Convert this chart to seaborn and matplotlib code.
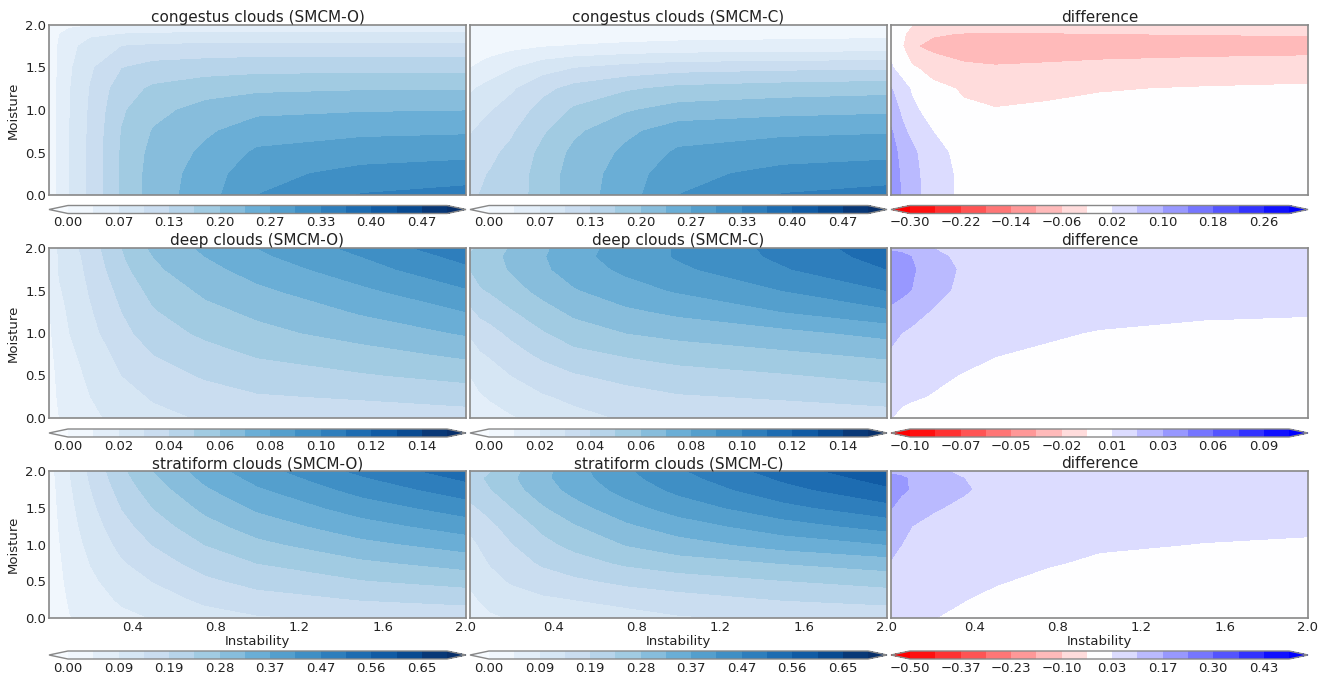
import numpy as np
import matplotlib
matplotlib.use("Agg")
import matplotlib.pyplot as plt
from matplotlib.ticker import FuncFormatter
import seaborn as sns

# grid of the model output
instability = [0.0, 0.05, 0.1, 0.2, 0.35, 0.5, 0.75, 1.0, 1.5, 2.0]
moisture = [0.0, 0.25, 0.5, 0.75, 1.0, 1.25, 1.5, 1.75, 1.9, 2.0]

# rows: moisture from 0.0 up to 2.0, columns: instability
congestus_o = [
    [0.000, 0.045, 0.067, 0.108, 0.172, 0.215, 0.252, 0.300, 0.335, 0.345],
    [0.000, 0.045, 0.067, 0.108, 0.172, 0.214, 0.248, 0.290, 0.310, 0.318],
    [0.000, 0.045, 0.067, 0.108, 0.171, 0.210, 0.240, 0.272, 0.285, 0.290],
    [0.000, 0.045, 0.067, 0.107, 0.168, 0.202, 0.228, 0.250, 0.259, 0.262],
    [0.000, 0.045, 0.066, 0.105, 0.162, 0.190, 0.212, 0.225, 0.230, 0.232],
    [0.000, 0.044, 0.065, 0.102, 0.152, 0.172, 0.185, 0.193, 0.197, 0.198],
    [0.000, 0.043, 0.062, 0.095, 0.132, 0.145, 0.151, 0.154, 0.155, 0.155],
    [0.000, 0.040, 0.056, 0.082, 0.100, 0.105, 0.108, 0.110, 0.110, 0.110],
    [0.000, 0.032, 0.045, 0.058, 0.065, 0.068, 0.070, 0.070, 0.070, 0.070],
    [0.000, 0.020, 0.026, 0.031, 0.033, 0.034, 0.035, 0.035, 0.035, 0.035],
]
congestus_c = [
    [0.130, 0.134, 0.138, 0.148, 0.182, 0.215, 0.252, 0.300, 0.335, 0.345],
    [0.125, 0.130, 0.135, 0.147, 0.181, 0.214, 0.248, 0.290, 0.310, 0.318],
    [0.112, 0.120, 0.127, 0.141, 0.175, 0.208, 0.240, 0.272, 0.285, 0.290],
    [0.097, 0.106, 0.114, 0.129, 0.162, 0.193, 0.226, 0.250, 0.259, 0.263],
    [0.080, 0.090, 0.098, 0.114, 0.145, 0.171, 0.196, 0.213, 0.221, 0.226],
    [0.062, 0.071, 0.079, 0.095, 0.124, 0.144, 0.162, 0.175, 0.183, 0.188],
    [0.032, 0.040, 0.048, 0.063, 0.085, 0.098, 0.110, 0.118, 0.123, 0.126],
    [0.010, 0.014, 0.018, 0.024, 0.031, 0.035, 0.039, 0.042, 0.044, 0.046],
    [0.004, 0.006, 0.008, 0.011, 0.014, 0.016, 0.019, 0.021, 0.023, 0.025],
    [0.002, 0.003, 0.004, 0.005, 0.006, 0.007, 0.008, 0.009, 0.010, 0.011],
]
congestus_diff = [
    [0.135, 0.097, 0.075, 0.040, 0.010, 0.000, 0.000, 0.000, 0.000, 0.000],
    [0.128, 0.094, 0.073, 0.039, 0.010, 0.000, 0.000, 0.000, 0.000, 0.000],
    [0.120, 0.087, 0.068, 0.035, 0.005, 0.000, 0.000, 0.000, 0.000, 0.000],
    [0.105, 0.068, 0.052, 0.020, -0.005, -0.008, 0.000, 0.000, 0.000, 0.000],
    [0.080, 0.055, 0.030, 0.000, -0.015, -0.019, -0.016, -0.012, -0.010, -0.008],
    [0.062, 0.040, 0.015, -0.010, -0.024, -0.028, -0.026, -0.022, -0.018, -0.015],
    [0.025, 0.000, -0.015, -0.035, -0.050, -0.055, -0.050, -0.045, -0.040, -0.038],
    [0.005, -0.015, -0.055, -0.072, -0.090, -0.100, -0.095, -0.088, -0.082, -0.078],
    [0.000, -0.010, -0.035, -0.055, -0.062, -0.064, -0.063, -0.060, -0.058, -0.056],
    [0.000, -0.005, -0.020, -0.025, -0.028, -0.028, -0.028, -0.028, -0.027, -0.027],
]

deep_o = [
    [0.003, 0.010, 0.013, 0.018, 0.023, 0.027, 0.031, 0.033, 0.034, 0.035],
    [0.004, 0.012, 0.015, 0.020, 0.026, 0.031, 0.036, 0.039, 0.041, 0.044],
    [0.005, 0.013, 0.016, 0.022, 0.030, 0.036, 0.041, 0.045, 0.049, 0.053],
    [0.006, 0.015, 0.018, 0.024, 0.033, 0.040, 0.046, 0.051, 0.056, 0.062],
    [0.008, 0.016, 0.020, 0.027, 0.037, 0.045, 0.052, 0.057, 0.064, 0.071],
    [0.009, 0.018, 0.021, 0.029, 0.040, 0.049, 0.057, 0.062, 0.071, 0.080],
    [0.010, 0.019, 0.023, 0.031, 0.043, 0.053, 0.062, 0.068, 0.078, 0.089],
    [0.011, 0.021, 0.024, 0.033, 0.047, 0.058, 0.067, 0.074, 0.086, 0.098],
    [0.012, 0.021, 0.025, 0.034, 0.049, 0.060, 0.070, 0.078, 0.090, 0.103],
    [0.012, 0.022, 0.026, 0.035, 0.050, 0.062, 0.072, 0.080, 0.093, 0.107],
]
deep_c = [
    [0.010, 0.014, 0.016, 0.019, 0.023, 0.027, 0.031, 0.033, 0.034, 0.035],
    [0.015, 0.019, 0.021, 0.025, 0.029, 0.032, 0.036, 0.039, 0.041, 0.044],
    [0.020, 0.024, 0.026, 0.030, 0.035, 0.039, 0.043, 0.046, 0.049, 0.053],
    [0.025, 0.029, 0.031, 0.036, 0.042, 0.047, 0.051, 0.054, 0.058, 0.062],
    [0.031, 0.035, 0.037, 0.042, 0.049, 0.055, 0.060, 0.063, 0.067, 0.073],
    [0.038, 0.042, 0.044, 0.049, 0.056, 0.062, 0.068, 0.072, 0.080, 0.088],
    [0.045, 0.049, 0.051, 0.056, 0.063, 0.069, 0.076, 0.081, 0.090, 0.100],
    [0.050, 0.054, 0.056, 0.061, 0.068, 0.075, 0.082, 0.088, 0.099, 0.110],
    [0.051, 0.055, 0.057, 0.062, 0.069, 0.077, 0.084, 0.091, 0.102, 0.114],
    [0.048, 0.052, 0.055, 0.061, 0.068, 0.076, 0.084, 0.091, 0.103, 0.116],
]
deep_diff = [
    [0.007, 0.004, 0.002, 0.000, 0.000, 0.000, 0.000, 0.000, 0.000, 0.000],
    [0.011, 0.009, 0.008, 0.006, 0.002, 0.000, 0.000, 0.000, 0.000, 0.000],
    [0.015, 0.013, 0.011, 0.009, 0.006, 0.004, 0.002, 0.000, 0.000, 0.000],
    [0.019, 0.016, 0.014, 0.012, 0.010, 0.007, 0.005, 0.003, 0.001, 0.000],
    [0.022, 0.020, 0.018, 0.015, 0.012, 0.010, 0.008, 0.006, 0.003, 0.002],
    [0.031, 0.028, 0.024, 0.019, 0.015, 0.012, 0.011, 0.010, 0.009, 0.008],
    [0.038, 0.036, 0.033, 0.024, 0.017, 0.014, 0.013, 0.012, 0.011, 0.011],
    [0.042, 0.040, 0.035, 0.026, 0.018, 0.014, 0.013, 0.012, 0.012, 0.012],
    [0.040, 0.038, 0.033, 0.024, 0.016, 0.013, 0.012, 0.011, 0.011, 0.011],
    [0.030, 0.028, 0.025, 0.020, 0.012, 0.008, 0.007, 0.007, 0.008, 0.009],
]

stratiform_o = [
    [0.005, 0.030, 0.045, 0.062, 0.082, 0.095, 0.120, 0.135, 0.147, 0.152],
    [0.008, 0.034, 0.051, 0.073, 0.100, 0.118, 0.149, 0.168, 0.188, 0.201],
    [0.011, 0.038, 0.057, 0.084, 0.117, 0.141, 0.177, 0.201, 0.230, 0.249],
    [0.014, 0.041, 0.063, 0.095, 0.135, 0.164, 0.206, 0.234, 0.271, 0.298],
    [0.018, 0.045, 0.069, 0.106, 0.153, 0.188, 0.234, 0.268, 0.313, 0.346],
    [0.021, 0.049, 0.075, 0.117, 0.170, 0.211, 0.263, 0.301, 0.354, 0.395],
    [0.024, 0.053, 0.081, 0.128, 0.188, 0.234, 0.291, 0.334, 0.395, 0.443],
    [0.027, 0.056, 0.087, 0.139, 0.205, 0.257, 0.320, 0.367, 0.437, 0.492],
    [0.029, 0.059, 0.091, 0.146, 0.216, 0.271, 0.337, 0.387, 0.461, 0.521],
    [0.030, 0.060, 0.093, 0.150, 0.223, 0.280, 0.348, 0.400, 0.478, 0.540],
]
stratiform_c = [
    [0.065, 0.078, 0.087, 0.096, 0.103, 0.108, 0.120, 0.135, 0.147, 0.152],
    [0.083, 0.096, 0.107, 0.120, 0.132, 0.140, 0.155, 0.168, 0.188, 0.201],
    [0.100, 0.114, 0.126, 0.144, 0.163, 0.177, 0.197, 0.210, 0.231, 0.249],
    [0.114, 0.129, 0.143, 0.165, 0.193, 0.213, 0.241, 0.259, 0.282, 0.303],
    [0.128, 0.144, 0.158, 0.184, 0.220, 0.246, 0.282, 0.307, 0.345, 0.373],
    [0.148, 0.162, 0.177, 0.205, 0.244, 0.275, 0.318, 0.350, 0.399, 0.437],
    [0.178, 0.190, 0.203, 0.232, 0.275, 0.309, 0.356, 0.394, 0.452, 0.498],
    [0.205, 0.218, 0.232, 0.262, 0.305, 0.341, 0.390, 0.432, 0.498, 0.552],
    [0.214, 0.228, 0.242, 0.271, 0.315, 0.352, 0.405, 0.450, 0.520, 0.579],
    [0.200, 0.214, 0.230, 0.264, 0.313, 0.355, 0.412, 0.460, 0.536, 0.596],
]
stratiform_diff = [
    [0.060, 0.050, 0.045, 0.035, 0.020, 0.010, 0.000, 0.000, 0.000, 0.000],
    [0.075, 0.065, 0.060, 0.050, 0.035, 0.020, 0.005, 0.000, 0.000, 0.000],
    [0.090, 0.080, 0.075, 0.065, 0.050, 0.038, 0.020, 0.008, 0.000, 0.000],
    [0.098, 0.090, 0.085, 0.075, 0.062, 0.052, 0.038, 0.025, 0.010, 0.005],
    [0.110, 0.100, 0.090, 0.080, 0.070, 0.060, 0.050, 0.040, 0.032, 0.027],
    [0.125, 0.110, 0.100, 0.088, 0.075, 0.066, 0.057, 0.050, 0.045, 0.042],
    [0.170, 0.140, 0.120, 0.105, 0.090, 0.078, 0.068, 0.062, 0.058, 0.055],
    [0.190, 0.180, 0.160, 0.130, 0.105, 0.085, 0.072, 0.066, 0.062, 0.060],
    [0.190, 0.180, 0.155, 0.125, 0.100, 0.082, 0.070, 0.064, 0.060, 0.058],
    [0.150, 0.140, 0.125, 0.110, 0.090, 0.075, 0.065, 0.060, 0.058, 0.056],
]

titles = [
    ["congestus clouds (SMCM-O)", "congestus clouds (SMCM-C)", "difference"],
    ["deep clouds (SMCM-O)", "deep clouds (SMCM-C)", "difference"],
    ["stratiform clouds (SMCM-O)", "stratiform clouds (SMCM-C)", "difference"],
]
fields = [
    [congestus_o, congestus_c, congestus_diff],
    [deep_o, deep_c, deep_diff],
    [stratiform_o, stratiform_c, stratiform_diff],
]
field_max = [0.5, 0.15, 0.7]
diff_max = [0.3, 0.1, 0.5]

sns.set_theme(style="white")
plt.rcParams["font.family"] = ["DejaVu Sans"]
plt.rcParams["text.color"] = "#222222"
plt.rcParams["axes.labelcolor"] = "#222222"
plt.rcParams["xtick.color"] = "#222222"
plt.rcParams["ytick.color"] = "#222222"

blues = sns.color_palette("Blues", as_cmap=True)
redblue = sns.color_palette("bwr_r", as_cmap=True)

W, H = 1322.0, 677.0
col_left = [49, 470, 891]
col_width = 417
row_top = [25, 248, 471]
row_bottom = [195, 418, 618]
cbar_top = [205.5, 429, 651]
cbar_height = 8

fmt = FuncFormatter(lambda v, pos: f"{v:.2f}".replace("-", "\u2212"))

fig = plt.figure(figsize=(W / 100, H / 100), dpi=100)

X, Y = np.meshgrid(instability, moisture)

for r in range(3):
    for c in range(3):
        ax = fig.add_axes([col_left[c] / W, 1 - row_bottom[r] / H,
                           col_width / W, (row_bottom[r] - row_top[r]) / H])
        if c < 2:
            levels = np.linspace(0, field_max[r], 16)
            cmap = blues
        else:
            levels = np.linspace(-diff_max[r], diff_max[r], 16)
            cmap = redblue
        cs = ax.contourf(X, Y, np.array(fields[r][c]), levels=levels,
                         cmap=cmap, extend="both")
        ax.set_xlim(0, 2)
        ax.set_ylim(0, 2)
        ax.set_title(titles[r][c], fontsize=11, pad=2)
        for sp in ax.spines.values():
            sp.set_color("#888888")
            sp.set_linewidth(1.2)
        ax.tick_params(length=0, labelsize=9.5, pad=2)
        ax.set_yticks([0.0, 0.5, 1.0, 1.5, 2.0])
        ax.set_xticks([0.4, 0.8, 1.2, 1.6, 2.0])
        if c == 0:
            ax.set_ylabel("Moisture", fontsize=9.5, labelpad=4)
        else:
            ax.set_yticklabels([])
        if r == 2:
            ax.set_xlabel("Instability", fontsize=9.5, labelpad=1)
        else:
            ax.set_xticklabels([])

        cax = fig.add_axes([col_left[c] / W, 1 - (cbar_top[r] + cbar_height) / H,
                            col_width / W, cbar_height / H])
        cb = fig.colorbar(cs, cax=cax, orientation="horizontal",
                          ticks=levels[:-1:2], format=fmt)
        cb.outline.set_edgecolor("#888888")
        cb.outline.set_linewidth(1.0)
        cax.tick_params(length=0, labelsize=9.5, pad=2)

fig.savefig("out.png", dpi=100)
